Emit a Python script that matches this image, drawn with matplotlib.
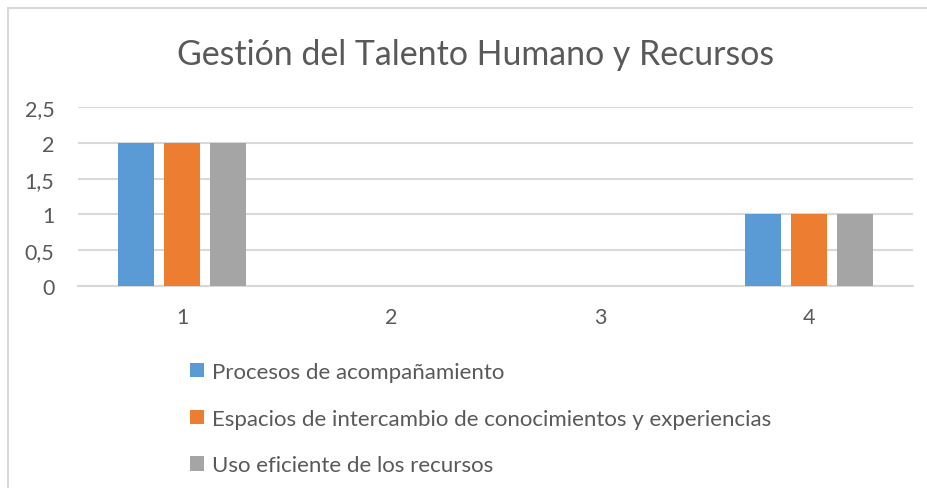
import matplotlib
matplotlib.use("Agg")
import matplotlib.pyplot as plt
from matplotlib.patches import Rectangle
import numpy as np

categories = ["1", "2", "3", "4"]
series_names = ["Procesos de acompañamiento",
                "Espacios de intercambio de conocimientos y experiencias",
                "Uso eficiente de los recursos"]
procesos = [2, 0, 0, 1]
espacios = [2, 0, 0, 1]
uso = [2, 0, 0, 1]
yticks = [0, 0.5, 1, 1.5, 2, 2.5]
ytick_labels = ["0", "0,5", "1", "1,5", "2", "2,5"]

colors = ["#5B9BD5", "#ED7D31", "#A5A5A5"]
txt = "#595959"
grid = "#D9D9D9"

plt.rcParams['font.family'] = ['Lato', 'DejaVu Sans']

W, H = 927, 489
fig = plt.figure(figsize=(W/100, H/100), dpi=100)
ax = fig.add_axes([78/W, 1-287/H, (913-78)/W, (287-108)/H])

x = np.arange(len(categories))
width = 0.172
offsets = [-0.22, 0, 0.22]
for vals, name, c, off in zip([procesos, espacios, uso], series_names, colors, offsets):
    ax.bar(x + off, vals, width, color=c, label=name, zorder=3)

ax.set_xlim(-0.5, 3.5)
ax.set_ylim(0, 2.5)
ax.set_yticks(yticks)
ax.set_yticklabels(ytick_labels)
ax.set_xticks(x)
ax.set_xticklabels(categories)
ax.yaxis.grid(True, color=grid, lw=1.5, zorder=0)
ax.set_axisbelow(True)
for s in ["top", "right", "left"]:
    ax.spines[s].set_visible(False)
ax.spines["bottom"].set_color(grid)
ax.spines["bottom"].set_linewidth(1.5)
ax.tick_params(axis='both', length=0, labelsize=15.5, colors=txt)
ax.tick_params(axis='x', pad=15)
ax.tick_params(axis='y', pad=17)

fig.text(476/W, 1-55/H, "Gestión del Talento Humano y Recursos", ha='center', va='center',
         fontsize=24.4, color=txt)

leg = fig.legend(loc='upper left', bbox_to_anchor=(190/W, 1-363/H), frameon=False,
                 fontsize=16, handlelength=0.63, handleheight=0.63, handletextpad=0.35,
                 labelspacing=1.2, borderpad=0, borderaxespad=0)
for t in leg.get_texts():
    t.set_color(txt)

fig.patches.append(Rectangle((8/W, -0.05), 1.0, 1-9/H+0.05, transform=fig.transFigure,
                             fill=False, edgecolor=grid, lw=1.5))

fig.savefig("out.png", dpi=100, facecolor="white")
